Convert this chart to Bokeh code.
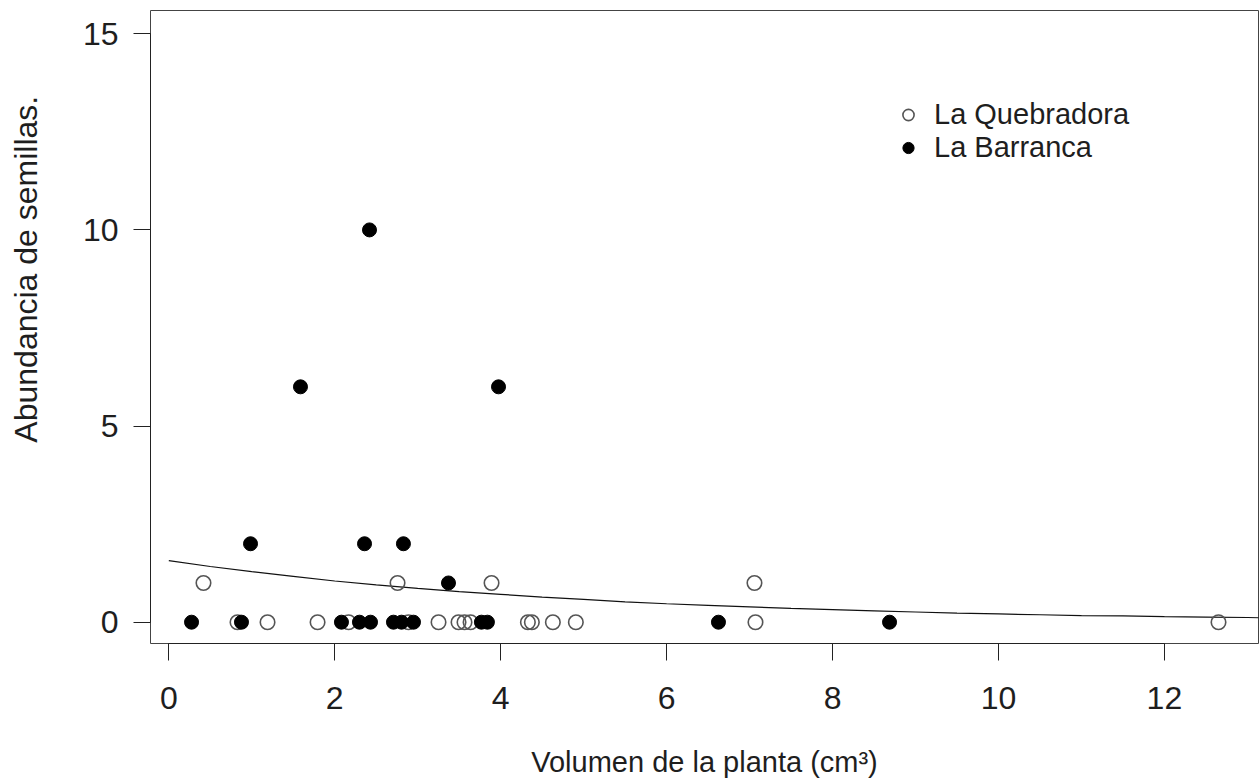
from bokeh.plotting import figure
from bokeh.models import Range1d, FixedTicker, Legend, LegendItem, ColumnDataSource
from bokeh.embed import file_html
from bokeh.resources import INLINE

# --- data ---
# La Quebradora (open circles)
queb_x = [0.418, 2.757, 3.890, 7.059,
          0.828, 1.190, 1.793, 2.167, 2.889, 3.251, 3.492, 3.564, 3.637,
          4.328, 4.376, 4.629, 4.906, 7.071, 12.652]
queb_y = [1, 1, 1, 1,
          0, 0, 0, 0, 0, 0, 0, 0, 0,
          0, 0, 0, 0, 0, 0]
# La Barranca (filled circles)
barr_x = [2.419, 1.587, 3.974, 0.985, 2.359, 2.828, 3.371,
          0.274, 0.876, 2.081, 2.298, 2.431, 2.708, 2.805, 2.949,
          3.768, 3.840, 6.625, 8.687]
barr_y = [10, 6, 6, 2, 2, 2, 1,
          0, 0, 0, 0, 0, 0, 0, 0,
          0, 0, 0, 0]
# fitted curve, values
curve_x = [0, 0.5, 1, 1.5, 2, 2.5, 3, 3.5, 4, 4.5, 5, 5.5, 6, 6.5, 7, 7.5,
           8, 8.5, 9, 9.5, 10, 10.5, 11, 11.5, 12, 12.5, 13, 13.2]
curve_y = [1.57, 1.42, 1.29, 1.17, 1.05, 0.95, 0.86, 0.78, 0.71, 0.64, 0.58,
           0.52, 0.47, 0.43, 0.39, 0.35, 0.32, 0.29, 0.26, 0.23, 0.21, 0.19,
           0.17, 0.16, 0.14, 0.13, 0.12, 0.11]
x_ticks = [0, 2, 4, 6, 8, 10, 12]
y_ticks = [0, 5, 10, 15]
x_title = "Volumen de la planta (cm³)"
y_title = "Abundancia de semillas."
legend_labels = ["La Quebradora", "La Barranca"]

FONT = "Liberation Sans"
TXT = "#1e1e1e"

p = figure(width=1259, height=781, output_backend="svg", toolbar_location=None,
           x_range=Range1d(-0.2206, 13.134), y_range=Range1d(-0.543, 15.593),
           min_border_left=150, min_border_right=1, min_border_top=10,
           min_border_bottom=138)
p.background_fill_color = "white"
p.border_fill_color = "white"
p.outline_line_color = "#444444"
p.outline_line_width = 1
p.xgrid.visible = False
p.ygrid.visible = False

for ax, ticks, bounds in ((p.xaxis[0], x_ticks, (0, 12)), (p.yaxis[0], y_ticks, (0, 15))):
    ax.ticker = FixedTicker(ticks=ticks)
    ax.bounds = bounds
    ax.minor_tick_line_color = None
    ax.major_tick_in = 0
    ax.major_tick_out = 17
    ax.axis_line_color = "#222222"
    ax.major_tick_line_color = "#222222"
    ax.axis_line_width = 1
    ax.major_label_text_font = FONT
    ax.major_label_text_font_size = "32px"
    ax.major_label_text_color = TXT
    ax.axis_label_text_font = FONT
    ax.axis_label_text_font_style = "normal"
    ax.axis_label_text_color = TXT
p.xaxis[0].major_label_standoff = 26
p.yaxis[0].major_label_standoff = 15

p.xaxis[0].axis_label = x_title
p.xaxis[0].axis_label_text_font_size = "29px"
p.xaxis[0].axis_label_standoff = 34
# leading no-break spaces shift the centred title towards the top, as in the reference
p.yaxis[0].axis_label = "\u00a0" * 13 + y_title
p.yaxis[0].axis_label_text_font_size = "32px"
p.yaxis[0].axis_label_standoff = 36

src_q = ColumnDataSource(dict(x=queb_x, y=queb_y))
src_b = ColumnDataSource(dict(x=barr_x, y=barr_y))
src_c = ColumnDataSource(dict(x=curve_x, y=curve_y))

p.line("x", "y", source=src_c, line_color="#111111", line_width=1.2)
r_q = p.scatter("x", "y", source=src_q, marker="circle", size=14.5,
                fill_color=None, line_color="#555555", line_width=1.6)
r_b = p.scatter("x", "y", source=src_b, marker="circle", size=14,
                fill_color="black", line_color="black", line_width=1)

legend = Legend(items=[LegendItem(label=legend_labels[0], renderers=[r_q]),
                       LegendItem(label=legend_labels[1], renderers=[r_b])],
                location=(744, 479), glyph_width=28, glyph_height=31,
                label_height=31, label_standoff=12, spacing=0, padding=0,
                margin=0, border_line_color=None, background_fill_alpha=0,
                label_text_font=FONT, label_text_font_size="29px",
                label_text_color=TXT)
p.add_layout(legend, "center")

open("out.html", "w").write(file_html(p, INLINE))
